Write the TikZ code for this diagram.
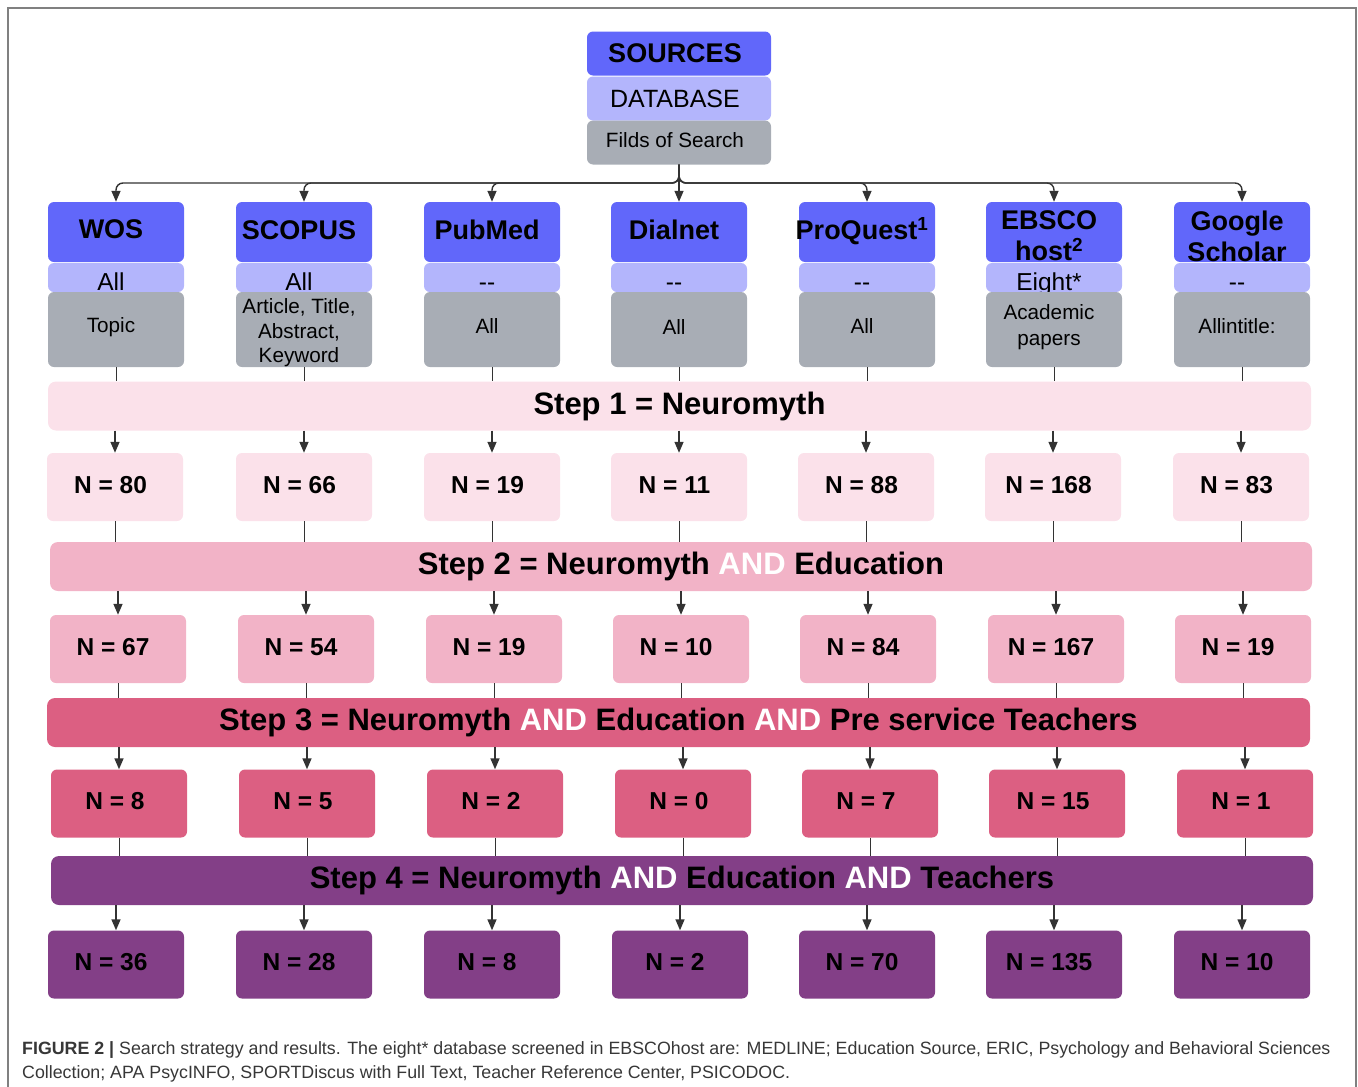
\documentclass[tikz,border=0pt]{standalone}
\usepackage{fontspec}
\setmainfont{Liberation Sans}
\usetikzlibrary{arrows.meta}
\definecolor{cblue}{RGB}{97,103,250}
\definecolor{clite}{RGB}{179,181,252}
\definecolor{cgray}{RGB}{168,173,181}
\definecolor{pinkA}{RGB}{251,225,234}
\definecolor{pinkB}{RGB}{242,179,199}
\definecolor{pinkC}{RGB}{220,95,130}
\definecolor{purp}{RGB}{131,63,135}
\definecolor{conn}{RGB}{51,51,51}
\definecolor{frame}{RGB}{128,128,128}
\definecolor{captxt}{RGB}{55,55,55}
\tikzset{
  box/.style={rounded corners=6pt, inner sep=0pt, minimum width=136pt},
  txt/.style={inner sep=0pt, align=center, text=black},
  hdr/.style={box, fill=cblue, minimum height=60pt},
  hdrtxt/.style={txt, font=\fontsize{27}{31}\selectfont\bfseries},
  lite/.style={box, fill=clite, minimum height=29pt},
  litetxt/.style={anchor=base, inner sep=0pt, text=black, font=\fontsize{24.5}{28}\selectfont},
  grey/.style={box, fill=cgray, minimum height=75pt},
  greytxt/.style={txt, font=\fontsize{20.7}{24.5}\selectfont},
  src/.style={box, minimum width=184pt, minimum height=44pt},
  band/.style={rounded corners=8pt, inner sep=0pt, minimum height=49pt, text=black, font=\fontsize{31}{36}\selectfont\bfseries},
  nbox/.style={box, minimum height=68pt},
  ntxt/.style={txt, font=\fontsize{24.5}{28}\selectfont\bfseries},
  ln/.style={draw=conn, line width=1pt},
  arr/.style={draw=conn, line width=1.4pt, -{Triangle[length=11pt,width=9pt]}},
}
\newcommand{\W}[1]{\textcolor{white}{#1}}
\begin{document}
\begin{tikzpicture}[x=1pt,y=-1pt]
\useasboundingbox (0,0) rectangle (1358,1087);
\draw[frame, line width=2pt] (8,1087) -- (8,8) -- (1356,8) -- (1356,1087);

% sources
\node[src, fill=cblue] (sources) at (679,53.5) {};
\node[txt, font=\fontsize{27}{31}\selectfont\bfseries] (sourcest) at (675,53.5) {SOURCES};
\node[src, fill=clite] (database) at (679,98.5) {};
\node[txt, font=\fontsize{25}{28}\selectfont] (databaset) at (675,98.5) {DATABASE};
\node[src, fill=cgray] (fields) at (679,142.5) {};
\node[txt, font=\fontsize{20.7}{24}\selectfont] (fieldst) at (675,140) {Filds of Search};
\coordinate (split) at (679,183);

% headers
\foreach \i/\x in {1/116,2/304,3/492,4/679,5/867,6/1054,7/1242}{
  \node[hdr] (h\i) at (\x,232) {};
}
\node[hdrtxt] (h1t) at (111,229) {WOS};
\node[hdrtxt] (h2t) at (299,230) {SCOPUS};
\node[hdrtxt] (h3t) at (487,230) {PubMed};
\node[hdrtxt] (h4t) at (674,230) {Dialnet};
\node[hdrtxt] (h5t) at (862,231) {ProQuest\textsuperscript{1}};
\node[hdrtxt] (h6t) at (1049,236) {EBSCO\\host\textsuperscript{2}};
\node[hdrtxt] (h7t) at (1237,236) {Google\\Scholar};

\foreach \i/\x/\t in {1/116/All,2/304/All,3/492/{-}{-},4/679/{-}{-},5/867/{-}{-},6/1054/Eight*,7/1242/{-}{-}}{
  \node[lite] (l\i) at (\x,277.5) {};
  \node[litetxt] (lt\i) at (\x-5,290) {\t};
}

\foreach \i/\x in {1/116,2/304,3/492,4/679,5/867,6/1054,7/1242}{
  \node[grey] (g\i) at (\x,329.5) {};
}
\node[greytxt] (g1t) at (111,327) {Topic};
\node[greytxt] (g2t) at (299,333) {Article, Title,\\Abstract,\\Keyword};
\node[greytxt] (g3t) at (487,326) {All};
\node[greytxt] (g4t) at (674,327) {All};
\node[greytxt] (g5t) at (862,326) {All};
\node[greytxt, font=\fontsize{20.7}{26}\selectfont] (g6t) at (1049,327) {Academic\\papers};
\node[greytxt] (g7t) at (1237,326) {Allintitle:};

% bands
\node[band, fill=pinkA, minimum width=1263pt] (s1) at (679.5,406) {Step 1 = Neuromyth};
\node[band, fill=pinkB, minimum width=1262pt] (s2) at (681,566.5) {Step 2 = Neuromyth \W{AND} Education};
\node[band, fill=pinkC, minimum width=1263pt] (s3) at (678.5,722.5) {Step 3 = Neuromyth \W{AND} Education \W{AND} Pre service Teachers};
\node[band, fill=purp, minimum width=1262pt] (s4) at (682,880.5) {Step 4 = Neuromyth \W{AND} Education \W{AND} Teachers};

% N rows
\foreach \i/\x/\t in {1/115/80,2/304/66,3/492/19,4/679/11,5/866/88,6/1053/168,7/1241/83}{
  \node[nbox, fill=pinkA] (a\i) at (\x,487) {};
  \node[ntxt] (a\i t) at (\x-4.5,485) {N = \t};
}
\foreach \i/\x/\t in {1/118/67,2/306/54,3/494/19,4/681/10,5/868/84,6/1056/167,7/1243/19}{
  \node[nbox, fill=pinkB] (b\i) at (\x,649) {};
  \node[ntxt] (b\i t) at (\x-5,647) {N = \t};
}
\foreach \i/\x/\t in {1/119/8,2/307/5,3/495/2,4/683/0,5/870/7,6/1057/15,7/1245/1}{
  \node[nbox, fill=pinkC] (c\i) at (\x,803.5) {};
  \node[ntxt] (c\i t) at (\x-4,801) {N = \t};
}
\foreach \i/\x/\t in {1/116/36,2/304/28,3/492/8,4/680/2,5/867/70,6/1054/135,7/1242/10}{
  \node[nbox, fill=purp] (d\i) at (\x,964.5) {};
  \node[ntxt] (d\i t) at (\x-5,962) {N = \t};
}

% top connectors
\foreach \i in {1,2,3,5,6,7}{
  \draw[arr, rounded corners=7pt] (fields.south) -- (split) -| (h\i.north);
}
\draw[arr] (fields.south) -- (h4.north);

% row connectors
\foreach \i in {1,...,7}{
  \draw[ln] (g\i.south) -- (g\i.south |- s1.north);
  \draw[arr] (a\i.north |- s1.south) -- (a\i.north);
  \draw[ln] (a\i.south) -- (a\i.south |- s2.north);
  \draw[arr] (b\i.north |- s2.south) -- (b\i.north);
  \draw[ln] (b\i.south) -- (b\i.south |- s3.north);
  \draw[arr] (c\i.north |- s3.south) -- (c\i.north);
  \draw[ln] (c\i.south) -- (c\i.south |- s4.north);
  \draw[arr] (d\i.north |- s4.south) -- (d\i.north);
}

% caption
\node[anchor=base west, inner sep=0pt, text=captxt, font=\fontsize{17.8}{24}\selectfont] (cap1) at (22,1054)
  {\textbf{FIGURE 2 |} Search strategy and results. The eight* database screened in EBSCOhost are: MEDLINE; Education Source, ERIC, Psychology and Behavioral Sciences};
\node[anchor=base west, inner sep=0pt, text=captxt, font=\fontsize{17.8}{24}\selectfont] (cap2) at (22,1078)
  {Collection; APA PsycINFO, SPORTDiscus with Full Text, Teacher Reference Center, PSICODOC.};
\end{tikzpicture}
\end{document}
